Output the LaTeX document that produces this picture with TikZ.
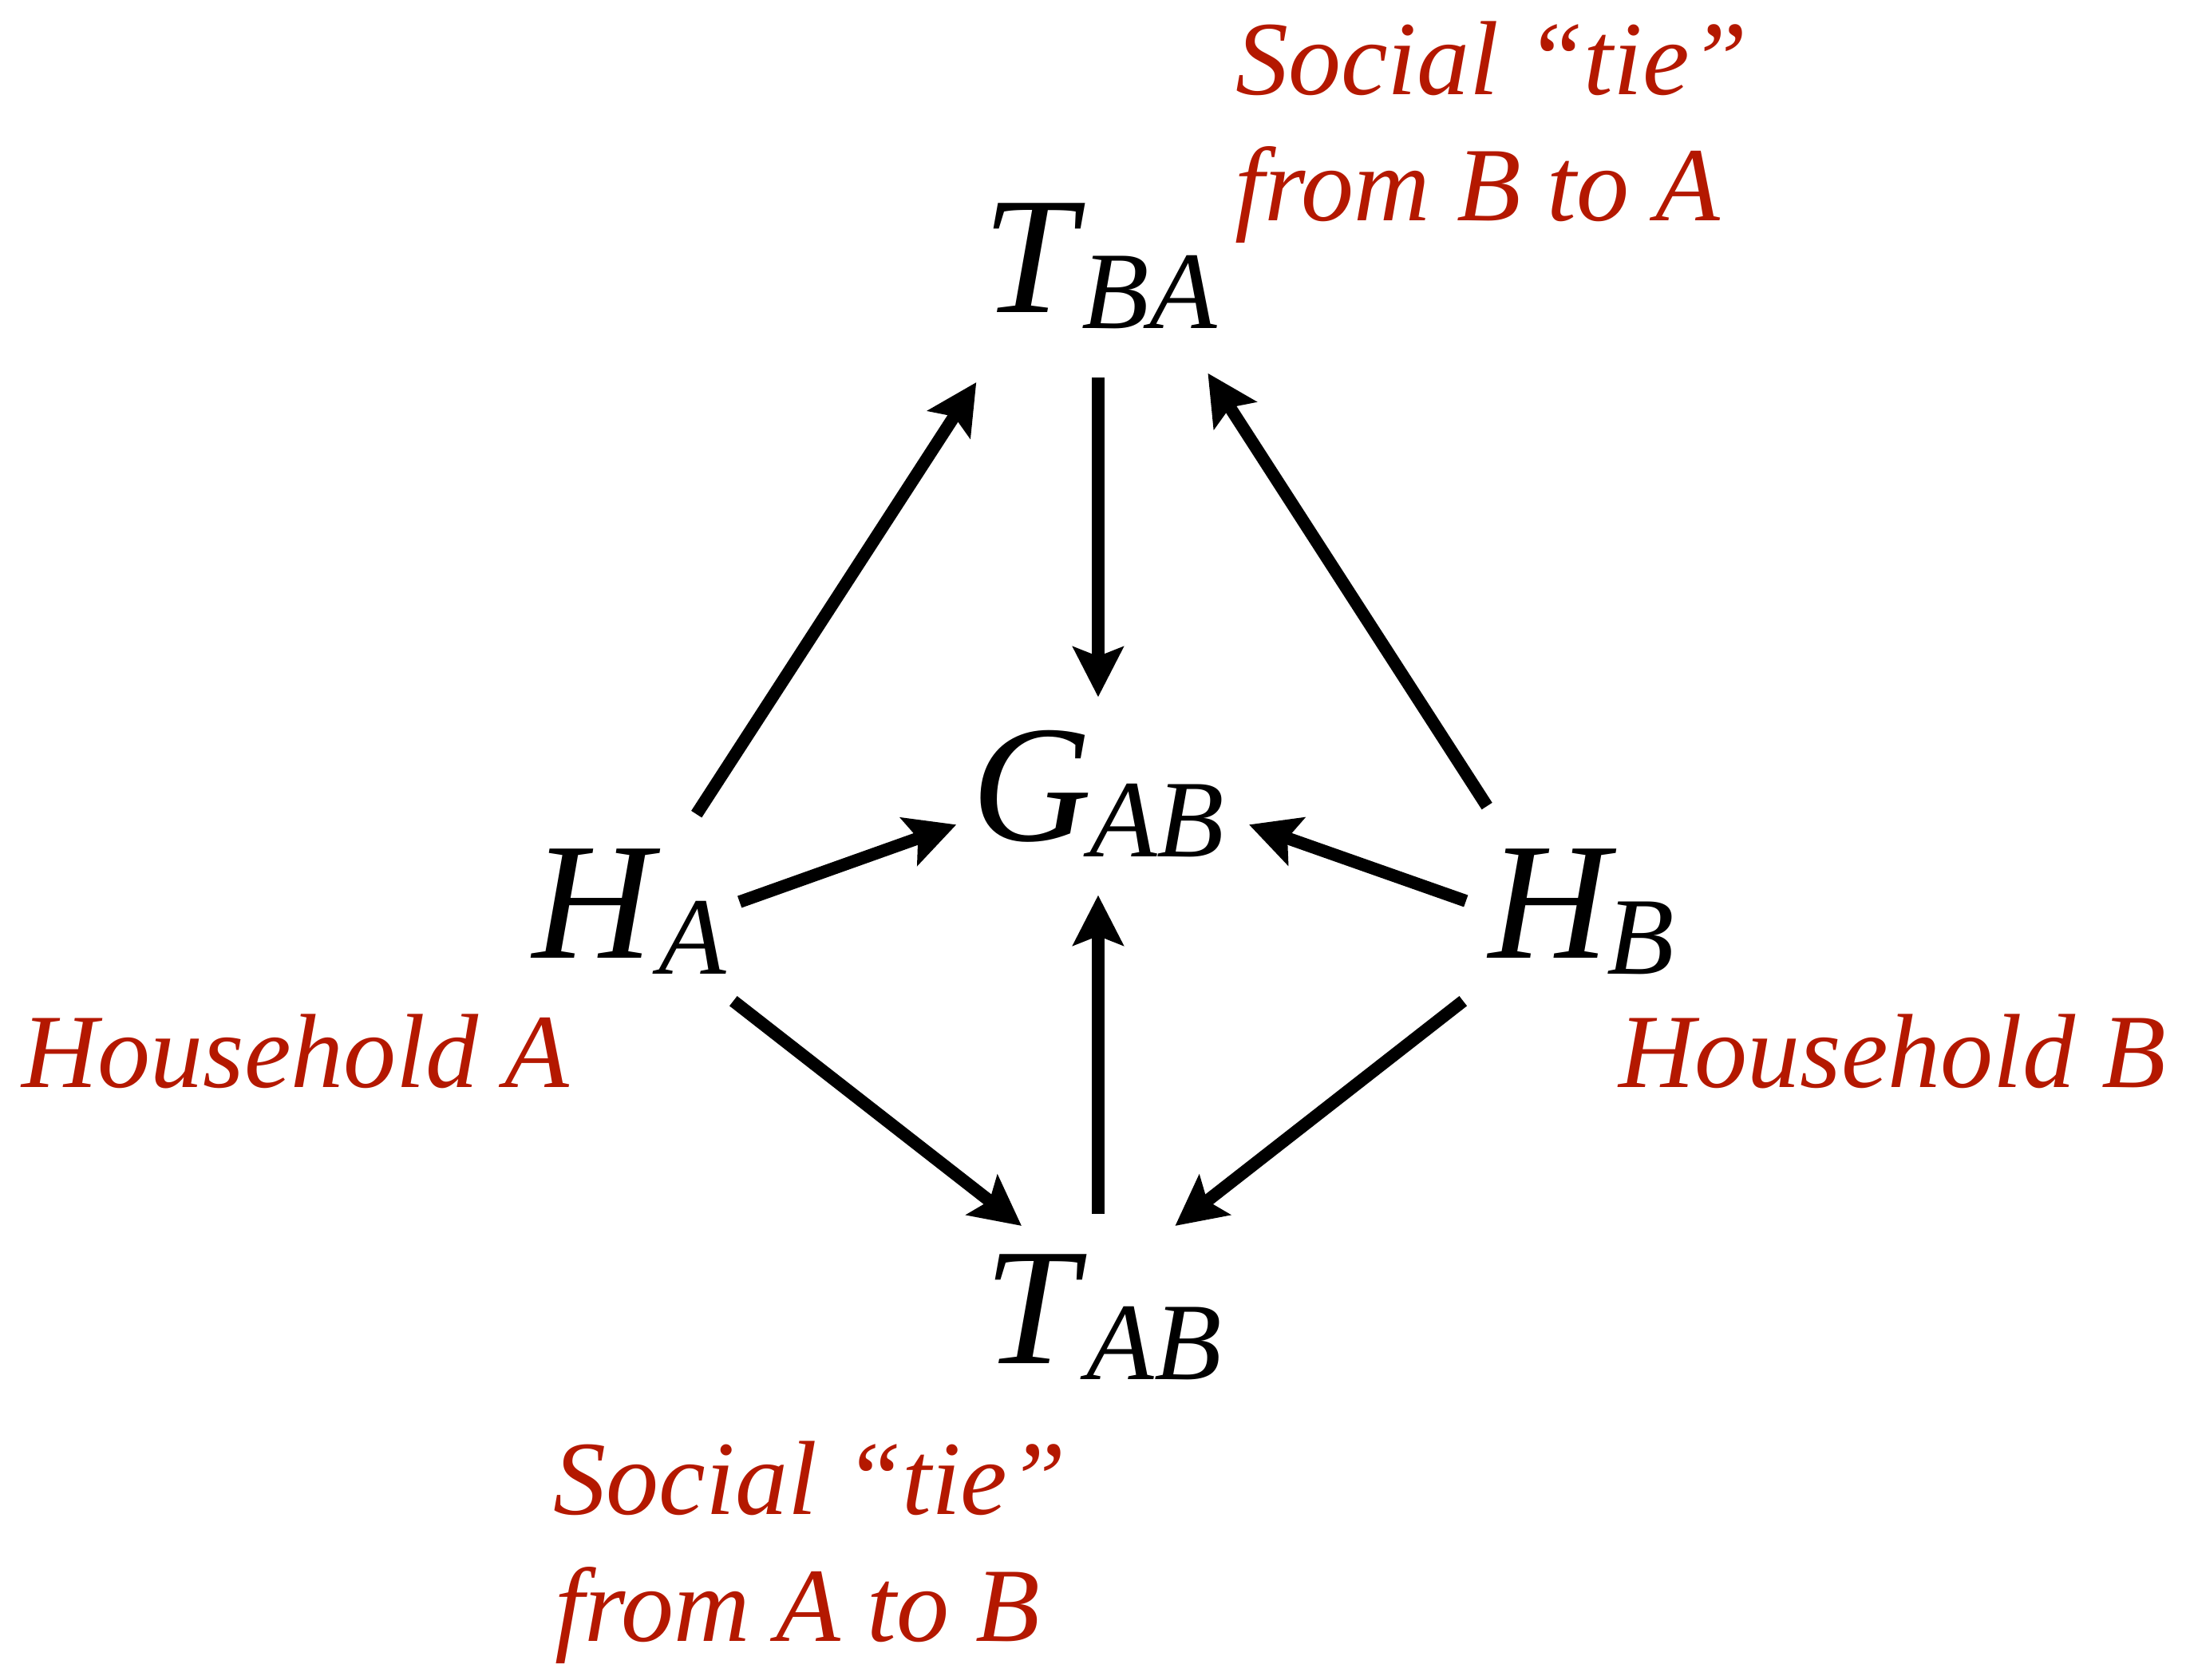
\documentclass[tikz,border=0pt]{standalone}
\usepackage{fontspec}
\setmainfont{Liberation Serif}
\usetikzlibrary{arrows.meta}
\definecolor{labred}{RGB}{180,24,0}
\newcommand\bigsz{\fontsize{34}{40}\selectfont\itshape}
\newcommand\subsz{\fontsize{22.5}{26}\selectfont\itshape}
\newcommand\varsub[3]{{\bigsz #1}\kern#3\raisebox{-3.3pt}{\subsz #2}}
\begin{document}
\begin{tikzpicture}[x=0.01cm,y=-0.01cm,
  var/.style={anchor=base west, inner sep=0pt, outer sep=0pt},
  lab/.style={anchor=base, inner sep=0pt, text=labred, font=\fontsize{21.5}{26}\selectfont\itshape},
  arr/.style={line width=2.55pt, -{Stealth[length=10.2pt,width=10.2pt,inset=1.9pt]}}]
\useasboundingbox (0,0) rectangle (1568,1205);
\node[var] (TBA) at (705,224) {\varsub{T}{BA}{1.3pt}};
\node[var] (GAB) at (697,603) {\varsub{G}{AB}{-0.5pt}};
\node[var] (HA) at (382,687) {\varsub{H}{A}{1.2pt}};
\node[var] (HB) at (1068,687) {\varsub{H}{B}{-0.5pt}};
\node[var] (TAB) at (706,978) {\varsub{T}{AB}{2pt}};
\node[lab] (labBA1) at (1070,68) {Social “tie”};
\node[lab] (labBA2) at (1060,158.5) {from B to A};
\node[lab] (labA) at (212,780) {Household A};
\node[lab] (labB) at (1357.5,780) {Household B};
\node[lab] (labAB1) at (581,1086) {Social “tie”};
\node[lab] (labAB2) at (572,1177) {from A to B};
\draw[arr] ([shift={(117.6,-103)}]HA.base west) -- ([shift={(-4.7,50.2)}]TBA.base west);
\draw[arr] ([shift={(82.7,47)}]TBA.base west) -- ([shift={(90.7,-103)}]GAB.base west);
\draw[arr] ([shift={(-1.4,-108.8)}]HB.base west) -- ([shift={(161.4,43.7)}]TBA.base west);
\draw[arr] ([shift={(148.5,-40.1)}]HA.base west) -- ([shift={(-11,-11.5)}]GAB.base west);
\draw[arr] ([shift={(-16.5,-40.7)}]HB.base west) -- ([shift={(198.9,-11.5)}]GAB.base west);
\draw[arr] ([shift={(81.7,-107.4)}]TAB.base west) -- ([shift={(90.7,39.1)}]GAB.base west);
\draw[arr] ([shift={(144,31)}]HA.base west) -- ([shift={(26.8,-98.7)}]TAB.base west);
\draw[arr] ([shift={(-18.5,31)}]HB.base west) -- ([shift={(136.9,-98.7)}]TAB.base west);
\end{tikzpicture}
\end{document}
